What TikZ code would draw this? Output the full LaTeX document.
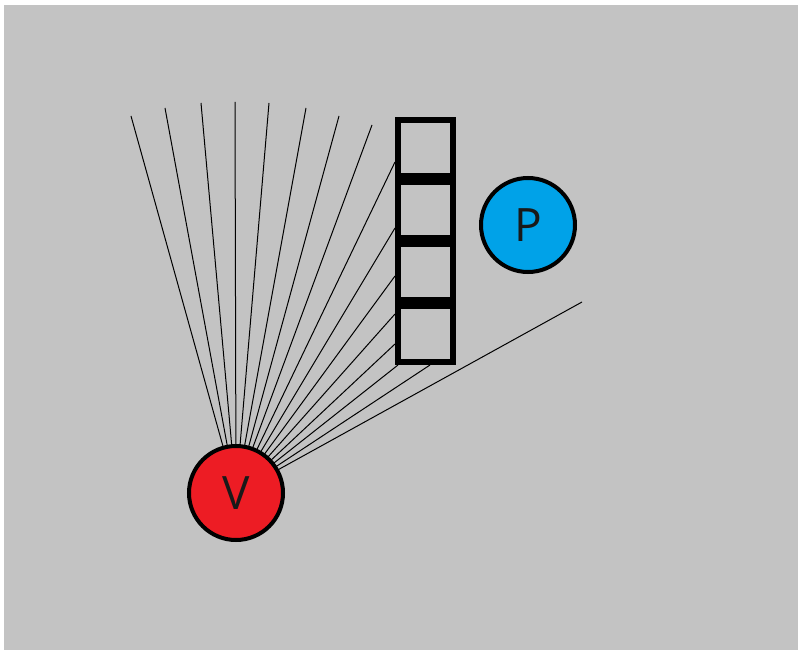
\documentclass[tikz,border=0pt]{standalone}
\usepackage{fontspec}
\setmainfont{Open Sans}
\definecolor{canvas}{HTML}{C3C3C3}
\definecolor{vred}{HTML}{ED1C24}
\definecolor{pblue}{HTML}{00A2E8}
\tikzset{
  ray/.style={draw=black, line width=1pt},
  cell/.style={draw=black, line width=6pt},
  ball/.style={circle, draw=black, line width=4pt, minimum size=94pt, inner sep=0pt,
               font=\fontsize{46}{46}\selectfont, text=black!90}
}
\begin{document}
\begin{tikzpicture}[x=1pt, y=-1pt]
  % page and grey canvas
  \fill[white] (0,0) rectangle (798,650);
  \fill[canvas] (4,5) rectangle (798,650);
  \useasboundingbox (0,0) rectangle (798,650);

  % hub of the fan of rays
  \coordinate (vc) at (236,493);

  % free ray ends above
  \coordinate (r1) at (131,116);
  \coordinate (r2) at (165,108);
  \coordinate (r3) at (201,103);
  \coordinate (r4) at (235,102);
  \coordinate (r5) at (269,103);
  \coordinate (r6) at (306,108);
  \coordinate (r7) at (339,116);
  \coordinate (r8) at (372,125);
  % rays stopped by the stack of cells
  \coordinate (r9)  at (395,162);
  \coordinate (r10) at (395,228);
  \coordinate (r11) at (395,276);
  \coordinate (r12) at (395,314);
  \coordinate (r13) at (395,344);
  \coordinate (r14) at (398,365);
  \coordinate (r15) at (430,365);
  % long ray to the right
  \coordinate (r16) at (582,302);

  \foreach \i in {1,...,16} {\draw[ray] (vc) -- (r\i);}

  % stack of four cells
  \foreach \i in {0,1,2,3} {
    \draw[cell] (398,{120+62*\i}) rectangle (453,{176+62*\i});
  }

  % the two discs
  \node[ball, fill=vred] (V) at (vc) {V};
  \node[ball, fill=pblue] (P) at (528,225) {P};
\end{tikzpicture}
\end{document}
